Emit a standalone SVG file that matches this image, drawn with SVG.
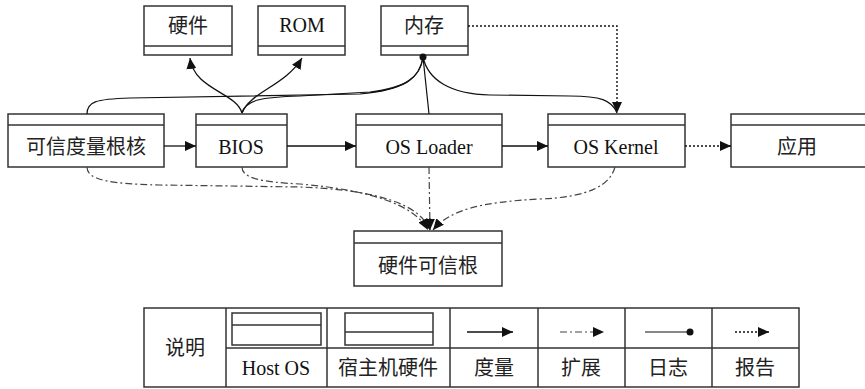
<svg xmlns="http://www.w3.org/2000/svg" width="865" height="389" viewBox="0 0 865 389">
  <style>
    .box { fill: #fff; stroke: #333; stroke-width: 1.5; }
    .sep { stroke: #333; stroke-width: 1.5; }
    .lat { font-family: "Liberation Serif", "Times New Roman", serif; font-size: 20px; fill: #111; text-anchor: middle; }
    .cjk { font-family: "Noto Sans CJK SC", "Noto Sans", sans-serif; font-size: 20px; fill: #222; text-anchor: middle; }
    .measure { fill: none; stroke: #111; stroke-width: 1.3; }
    .extend { fill: none; stroke: #444; stroke-width: 1.2; stroke-dasharray: 7 3 2 3; }
    .log { fill: none; stroke: #111; stroke-width: 1.2; }
    .report { fill: none; stroke: #111; stroke-width: 1.4; stroke-dasharray: 2 2; }
    .grid { fill: none; stroke: #333; stroke-width: 1.5; }
  </style>
  <defs>
    <marker id="arrow" markerUnits="userSpaceOnUse" markerWidth="12" markerHeight="10" refX="11" refY="5" orient="auto">
      <path d="M0,0 L11,5 L0,10 z" fill="#111"/>
    </marker>
  </defs>

  <!-- hardware-style nodes: separator near the bottom -->
  <g id="hw">
    <rect class="box" x="144" y="6" width="88" height="49"/>
    <line class="sep" x1="144" y1="46" x2="232" y2="46"/>
    <text class="cjk" x="188" y="33">硬件</text>
  </g>
  <g id="rom">
    <rect class="box" x="258" y="6" width="87" height="49"/>
    <line class="sep" x1="258" y1="46" x2="345" y2="46"/>
    <text class="lat" x="302" y="32">ROM</text>
  </g>
  <g id="mem">
    <rect class="box" x="381" y="6" width="87" height="49"/>
    <line class="sep" x1="381" y1="46" x2="468" y2="46"/>
    <text class="cjk" x="424" y="33">内存</text>
  </g>

  <!-- host OS nodes: separator near the top -->
  <g id="crtm">
    <rect class="box" x="8" y="114" width="156" height="53"/>
    <line class="sep" x1="8" y1="125" x2="164" y2="125"/>
    <text class="cjk" x="86" y="154">可信度量根核</text>
  </g>
  <g id="bios">
    <rect class="box" x="196" y="114" width="91" height="53"/>
    <line class="sep" x1="196" y1="125" x2="287" y2="125"/>
    <text class="lat" x="241" y="154">BIOS</text>
  </g>
  <g id="loader">
    <rect class="box" x="356" y="114" width="146" height="53"/>
    <line class="sep" x1="356" y1="125" x2="502" y2="125"/>
    <text class="lat" x="429" y="154">OS Loader</text>
  </g>
  <g id="kernel">
    <rect class="box" x="548" y="114" width="137" height="53"/>
    <line class="sep" x1="548" y1="125" x2="685" y2="125"/>
    <text class="lat" x="616" y="154">OS Kernel</text>
  </g>
  <g id="app">
    <rect class="box" x="731" y="114" width="140" height="53"/>
    <line class="sep" x1="731" y1="125" x2="871" y2="125"/>
    <text class="cjk" x="797" y="154">应用</text>
  </g>
  <g id="rtm">
    <rect class="box" x="354" y="231" width="148" height="55"/>
    <line class="sep" x1="354" y1="243" x2="502" y2="243"/>
    <text class="cjk" x="428" y="273">硬件可信根</text>
  </g>

  <g id="connectors">
    <!-- measurement -->
    <path class="measure" marker-end="url(#arrow)" d="M164,146 L196,146"/>
    <path class="measure" marker-end="url(#arrow)" d="M287,146 L356,146"/>
    <path class="measure" marker-end="url(#arrow)" d="M502,146 L548,146"/>
    <path class="measure" marker-end="url(#arrow)" d="M242,113 C236,92 194,90 190,58"/>
    <path class="measure" marker-end="url(#arrow)" d="M242,113 C250,92 285,86 302,58"/>
    <!-- logging into memory -->
    <path class="log" d="M87,114 C87,102 95,99 130,98 L360,94 C402,90 420,80 423,57"/>
    <path class="log" d="M242,113 C245,100 262,97 300,96 L370,92 C405,88 420,78 423,57"/>
    <path class="log" d="M429,114 L423,57"/>
    <path class="log" d="M617,113 C612,100 600,96 570,96 L490,95 C450,94 428,80 423,57"/>
    <circle cx="423" cy="57" r="3.5" fill="#111"/>
    <!-- extension into the hardware root of trust -->
    <path class="extend" marker-end="url(#arrow)" d="M87,167 C87,180 110,184 160,185 L300,187 C380,190 420,205 430,230"/>
    <path class="extend" marker-end="url(#arrow)" d="M242,167 C242,178 260,182 300,184 C370,190 415,205 428,230"/>
    <path class="extend" marker-end="url(#arrow)" d="M429,167 L430,230"/>
    <path class="extend" marker-end="url(#arrow)" d="M615,167 C610,185 590,197 540,199 C480,202 450,210 433,230"/>
    <!-- reporting -->
    <path class="report" marker-end="url(#arrow)" d="M468,26 L617,26 L617,113"/>
    <path class="report" marker-end="url(#arrow)" d="M685,146 L731,146"/>
  </g>

  <!-- legend -->
  <g id="legend">
    <rect class="grid" x="144" y="308" width="655" height="79"/>
    <line class="grid" x1="226" y1="348" x2="799" y2="348"/>
    <line class="grid" x1="226" y1="308" x2="226" y2="387"/>
    <line class="grid" x1="327" y1="308" x2="327" y2="387"/>
    <line class="grid" x1="450" y1="308" x2="450" y2="387"/>
    <line class="grid" x1="538" y1="308" x2="538" y2="387"/>
    <line class="grid" x1="625" y1="308" x2="625" y2="387"/>
    <line class="grid" x1="712" y1="308" x2="712" y2="387"/>
    <text class="cjk" x="185" y="355">说明</text>
    <rect class="box" x="232" y="313" width="89" height="32"/>
    <line class="sep" x1="232" y1="325" x2="321" y2="325"/>
    <rect class="box" x="345" y="313" width="88" height="32"/>
    <line class="sep" x1="345" y1="332" x2="433" y2="332"/>
    <path class="measure" marker-end="url(#arrow)" d="M467,332 L513,332"/>
    <path class="extend" marker-end="url(#arrow)" d="M560,332 L604,332"/>
    <path class="log" d="M645,332 L690,332"/>
    <circle cx="690" cy="332" r="3.5" fill="#111"/>
    <path class="report" marker-end="url(#arrow)" d="M735,332 L769,332"/>
    <text class="lat" x="276" y="375">Host OS</text>
    <text class="cjk" x="388" y="375">宿主机硬件</text>
    <text class="cjk" x="494" y="375">度量</text>
    <text class="cjk" x="581" y="375">扩展</text>
    <text class="cjk" x="668" y="375">日志</text>
    <text class="cjk" x="755" y="375">报告</text>
  </g>
</svg>
